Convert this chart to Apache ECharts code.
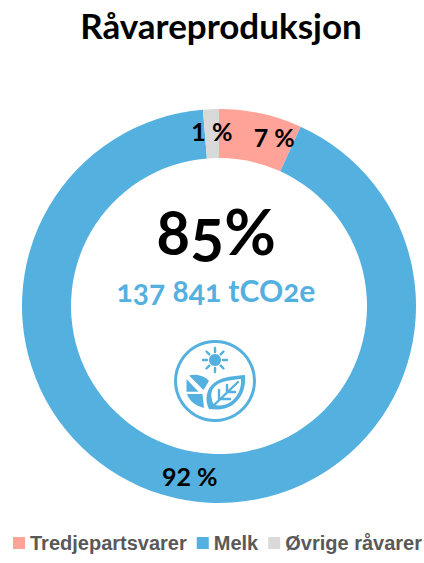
<!DOCTYPE html>
<html><head><meta charset="utf-8">
<style>
html,body{margin:0;padding:0;background:#fff;overflow:hidden}
#c{width:424px;height:563px}
text[style*="63px"],text[style*="30px"]{font-variant-numeric:oldstyle-nums;font-feature-settings:"onum" 1}
</style>
<script src="https://cdn.jsdelivr.net/npm/echarts@6/dist/echarts.min.js"></script>
</head><body><div id="c"></div>
<script>
const titleText = 'Råvareproduksjon';
const categories = ['Tredjepartsvarer', 'Melk', 'Øvrige råvarer'];
const values = [6.8, 91.9, 1.3];
const sliceLabels = ['7 %', '92 %', '1 %'];
const colors = ['#FFA398', '#54B0DF', '#D9D9D9'];
const centerValue = '85%';
const centerSub = '137 841 tCO2e';
const offsets = [[18, 3], [1, -3], [0, 0]];
const blue = '#54B0DF';

const chart = echarts.init(document.getElementById('c'), null, {renderer: 'svg'});
let shapeCount = 0;
function iconShape(d) {
  const name = 'iconShape' + (shapeCount++);
  echarts.graphic.registerShape(name, echarts.graphic.extendPath(d));
  return name;
}
const fillPath = (d, fill) => ({type: iconShape(d), silent: true, style: {fill: fill, stroke: 'none'}});
const strokePath = (d, w) => ({type: iconShape(d), silent: true, style: {fill: 'none', stroke: blue, lineWidth: w, lineCap: 'round'}});
chart.setOption({
  animation: false,
  title: {text: titleText, left: 216, top: 2, textAlign: 'center',
    textStyle: {fontFamily: 'Lato', fontWeight: 'bold', fontSize: 35, color: '#000'}},
  legend: {left: 13, top: 533, width: 800, padding: 0, itemWidth: 12, itemHeight: 12, itemGap: 10, icon: 'rect',
    data: categories,
    textStyle: {fontFamily: 'Liberation Sans', fontWeight: 'bold', fontSize: 20, color: '#595959'}},
  series: [{
    type: 'pie', center: [219, 306], radius: [148, 197], startAngle: 90, clockwise: true,
    avoidLabelOverlap: false, silent: true,
    labelLine: {show: false},
    data: categories.map((n, i) => ({
      name: n, value: values[i], itemStyle: {color: colors[i]},
      label: {show: true, position: 'inside', formatter: sliceLabels[i], offset: offsets[i],
        fontFamily: 'Lato', fontWeight: 'bold', fontSize: 25, color: '#000'}
    }))
  }],
  graphic: [
    {type: 'text', silent: true, style: {text: centerValue, x: 216, y: 230, align: 'center', verticalAlign: 'middle',
      fontFamily: 'Lato', fontSize: 63, fontWeight: 'bold', fill: '#000'}},
    {type: 'text', silent: true, style: {text: centerSub, x: 216, y: 290, align: 'center', verticalAlign: 'middle',
      fontFamily: 'Lato', fontSize: 30, fontWeight: 'bold', fill: blue}},
    {type: 'circle', silent: true, shape: {cx: 215, cy: 381, r: 39.5}, style: {fill: 'none', stroke: blue, lineWidth: 3}},
    {type: 'circle', silent: true, shape: {cx: 215, cy: 360, r: 6}, style: {fill: blue}},
    strokePath('M215,352 L215,348 M215,368 L215,372 M207,360 L203,360 M223,360 L227,360 M209.3,354.3 L206.5,351.5 M220.7,354.3 L223.5,351.5 M209.3,365.7 L206.5,368.5 M220.7,365.7 L223.5,368.5', 2.4),
    fillPath('M189,375.5 C196,373.5 204,375.5 209,381 L203.5,390 Z', blue),
    fillPath('M186.5,379 L198.5,391.7 L186.5,391.7 Z', blue),
    fillPath('M187,394 L202.5,394 L204,408 C196,406 189,401 187,394 Z', blue),
    fillPath('M209,409 C204,399 207,388 214,383 C222,376 236,376 245,375 C246,386 243,396 235,403 C227,410 217,410 209,409 Z', blue),
    fillPath('M213,403 C210,396 211,389 216,385.5 C222,380.5 233,380 241,379 C241.5,387 239,395 232.5,400.5 C226,406 219,406 214,405 Z', '#fff'),
    strokePath('M211,408 L238,382 M219,399 L219,390 M219,399 L230,399 M227,392 L227,385 M227,392 L235,392', 2.4)
  ]
});
</script></body></html>
